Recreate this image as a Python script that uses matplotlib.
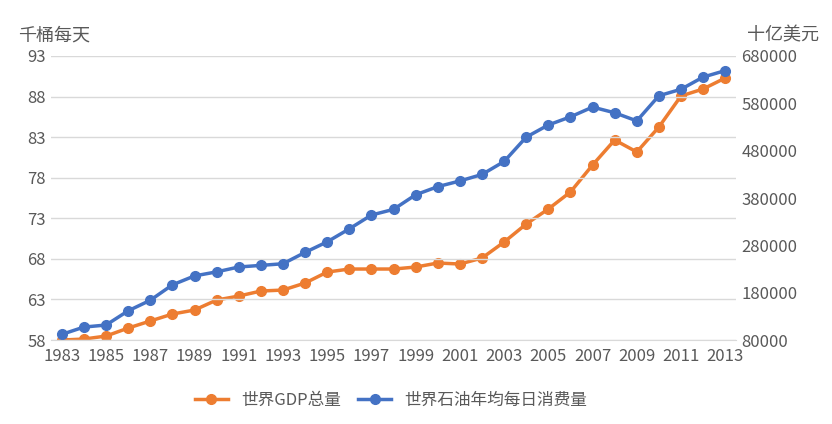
import matplotlib
matplotlib.use("Agg")
import matplotlib.pyplot as plt
from matplotlib import font_manager

names = {f.name for f in font_manager.fontManager.ttflist}
cjk = [n for n in ["Noto Sans CJK SC", "Noto Sans CJK JP", "Noto Sans CJK TC", "Noto Sans CJK KR"] if n in names]
plt.rcParams["font.family"] = cjk + ["DejaVu Sans"]

years = list(range(1983, 2014))
oil = [58.7, 59.6, 59.85, 61.6, 62.9, 64.8, 65.9, 66.4, 67.0, 67.2, 67.4, 68.8, 70.1, 71.7,
       73.4, 74.1, 75.9, 76.9, 77.6, 78.4, 80.0, 83.0, 84.5, 85.5, 86.7, 86.0, 85.0, 88.1,
       88.9, 90.4, 91.2]
gdp = [80000, 82100, 88450, 105300, 120200, 134900, 143400, 164500, 172900, 183500, 185600,
       200400, 223600, 230000, 230000, 230000, 234200, 242700, 240600, 253200, 287000, 325100,
       356800, 392700, 449700, 502500, 477200, 530000, 595500, 610300, 633500]
left_ticks = [58, 63, 68, 73, 78, 83, 88, 93]
right_ticks = [80000, 180000, 280000, 380000, 480000, 580000, 680000]

fig = plt.figure(figsize=(8.32, 4.24), dpi=100)
ax = fig.add_axes([0.061, 0.198, 0.824, 0.670])
ax2 = ax.twinx()
x = list(range(len(years)))
gray = "#595959"

ax.set_ylim(58, 93)
ax.set_yticks(left_ticks)
ax2.set_ylim(80000, 680000)
ax2.set_yticks(right_ticks)
ax.set_xlim(-0.5, len(years) - 0.5)
ax.set_xticks(x[::2])
ax.set_xticklabels([str(y) for y in years[::2]])
ax.yaxis.grid(True, color="#d9d9d9", lw=1)
ax.set_axisbelow(True)
for a in (ax, ax2):
    for s in a.spines.values():
        s.set_visible(False)
    a.tick_params(length=0, labelsize=12, colors=gray)
ax.spines["bottom"].set_visible(True)
ax.spines["bottom"].set_color("#d9d9d9")
ax.tick_params(axis="x", pad=6)

l2, = ax2.plot(x, gdp, color="#ED7D31", lw=2.5, marker="o", ms=7)
l1, = ax.plot(x, oil, color="#4472C4", lw=2.5, marker="o", ms=7)
ax.set_zorder(ax2.get_zorder() + 1)
ax.patch.set_visible(False)

fig.text(0.022, 0.905, "千桶每天", fontsize=13, color=gray)
fig.text(0.898, 0.905, "十亿美元", fontsize=13, color=gray)
fig.legend([l2, l1], ["世界GDP总量", "世界石油年均每日消费量"], loc="lower center",
           bbox_to_anchor=(0.47, 0.0), ncol=2, frameon=False, fontsize=12,
           labelcolor=gray, handlelength=2, columnspacing=1.0)
fig.savefig("out.png", dpi=100)
